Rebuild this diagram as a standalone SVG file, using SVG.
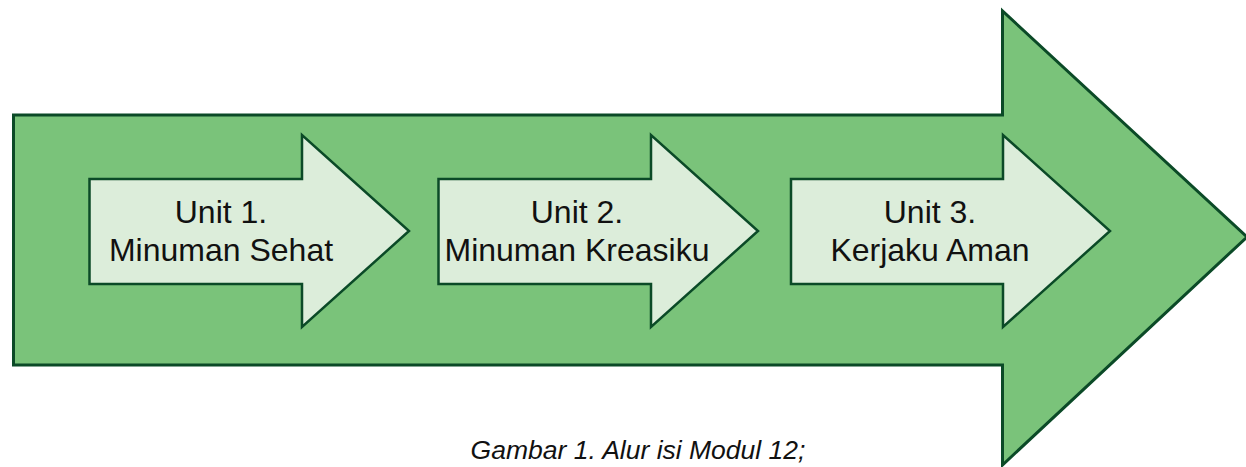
<svg xmlns="http://www.w3.org/2000/svg" width="1246" height="467" viewBox="0 0 1246 467">
<style>
.big{fill:#7ac37a;stroke:#0b4a27;stroke-width:3;stroke-linejoin:miter}
.small{fill:#dcedda;stroke:#0b4a27;stroke-width:2.5}
.lbl{font-family:"Liberation Sans",Arial,sans-serif;font-size:32px;fill:#111;text-anchor:middle}
.cap{font-family:"Liberation Sans",Arial,sans-serif;font-size:26.5px;font-style:italic;fill:#111;text-anchor:middle}
</style>
<rect width="1246" height="467" fill="#fff"/>
<g id="main-arrow">
<polygon class="big" points="13.5,115 1002.5,115 1002.5,11 1247,237 1002.5,465 1002.5,365 13.5,365"/>
</g>
<g id="unit1">
<polygon class="small" points="89.5,179 302,179 302,135 409,231 302,327 302,284 89.5,284"/>
<text class="lbl" x="221" y="223">Unit 1.</text>
<text class="lbl" x="221" y="261">Minuman Sehat</text>
</g>
<g id="unit2">
<polygon class="small" points="438.5,179 651,179 651,135 758,231 651,327 651,284 438.5,284"/>
<text class="lbl" x="577" y="223">Unit 2.</text>
<text class="lbl" x="577" y="261">Minuman Kreasiku</text>
</g>
<g id="unit3">
<polygon class="small" points="791,179 1003,179 1003,135 1110,231 1003,327 1003,284 791,284"/>
<text class="lbl" x="930" y="223">Unit 3.</text>
<text class="lbl" x="930" y="261">Kerjaku Aman</text>
</g>
<g id="connectors"></g>
<g id="caption">
<text class="cap" x="638" y="459">Gambar 1. Alur isi Modul 12;</text>
</g>
</svg>
